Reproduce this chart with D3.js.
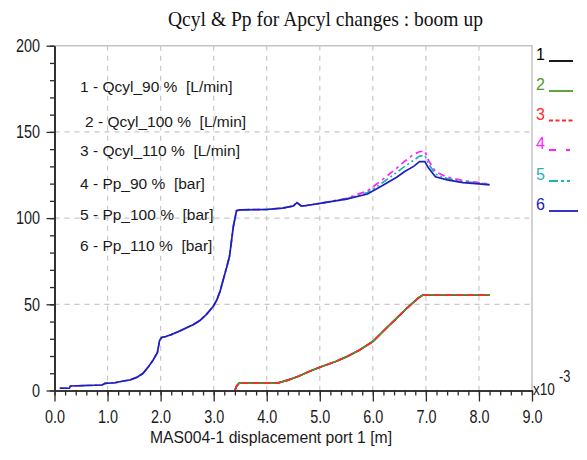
<!DOCTYPE html>
<html>
<head>
<meta charset="utf-8">
<script src="https://cdn.jsdelivr.net/npm/d3@7"></script>
<style>
  html, body { margin: 0; padding: 0; background: #fff; }
  svg { display: block; }
  text { font-family: "Liberation Sans", Arial, sans-serif; }
</style>
</head>
<body>
<svg id="chart" width="587" height="460"></svg>
<script>
// ---- data ----
const titleText = "Qcyl & Pp for Apcyl changes : boom up";
const xAxisTitle = "MAS004-1 displacement port 1 [m]";
const xTickValues = [0, 1, 2, 3, 4, 5, 6, 7, 8, 9];
const yTickValues = [0, 50, 100, 150, 200];

const seriesIds = ["1", "2", "3", "4", "5", "6"];
const seriesNames = [
  "Qcyl_90 %  [L/min]",
  "Qcyl_100 %  [L/min]",
  "Qcyl_110 %  [L/min]",
  "Pp_90 %  [bar]",
  "Pp_100 %  [bar]",
  "Pp_110 %  [bar]"
];
const seriesColors = ["#000000", "#4f9a2a", "#ff2a2a", "#ff22ff", "#1fb2b2", "#1e1ec0"];
const seriesDashes = [null, null, "7,4", "7,4,3,4", "8,3,2,3,2,3", null];
const keyDashes    = [null, null, "4,2.5", "7,10,4,10", "9,3,3,3,3,3", null];

// cylinder flow (x10^-3 scale), rises after the pump pressure plateau
const qX    = [3.40, 3.43, 3.48, 3.80, 4.20, 4.40, 4.60, 4.80, 5.00, 5.30, 5.50, 5.75, 6.00, 6.25, 6.45, 6.65, 6.85, 6.95, 7.50, 8.20];
const q90   = [0.0, 2.5, 4.3, 4.3, 4.3, 6.0, 8.3, 11.0, 13.5, 16.8, 19.5, 23.5, 28.4, 36.0, 42.0, 48.0, 53.5, 55.5, 55.5, 55.5];
const q100  = [0.0, 2.5, 4.3, 4.3, 4.3, 6.0, 8.3, 11.0, 13.5, 16.8, 19.5, 23.5, 28.4, 36.0, 42.0, 48.0, 53.5, 55.5, 55.5, 55.5];
const q110  = [0.0, 2.5, 4.3, 4.3, 4.3, 6.0, 8.3, 11.0, 13.5, 16.8, 19.5, 23.5, 28.4, 36.0, 42.0, 48.0, 53.5, 55.5, 55.5, 55.5];

// pump pressure
const pX    = [0.10, 0.28, 0.30, 0.90, 0.95, 1.14, 1.30, 1.42, 1.55, 1.67, 1.77, 1.86, 1.94, 1.98, 2.02, 2.10, 2.20, 2.36, 2.50, 2.62,
               2.74, 2.86, 2.99, 3.06, 3.12, 3.18, 3.25, 3.30, 3.37, 3.43, 3.50, 4.00, 4.30, 4.50, 4.57, 4.65, 4.75, 5.00, 5.50, 5.90,
               6.15, 6.45, 6.60, 6.77, 6.88, 6.98, 7.05, 7.18, 7.40, 7.70, 8.00, 8.20];
const p90   = [1.3, 1.3, 2.6, 3.2, 4.1, 4.5, 5.5, 6.1, 7.6, 10.0, 13.8, 17.7, 22.0, 29.0, 30.8, 31.3, 32.4, 34.5, 36.5, 38.3,
               40.6, 44.0, 48.7, 52.5, 57.5, 64.2, 72.0, 78.0, 95.0, 104.3, 104.8, 105.0, 105.8, 107.0, 109.0, 107.0, 107.3, 108.5, 111.5, 115.8,
               121.5, 129.0, 133.0, 137.0, 138.5, 139.0, 133.5, 127.0, 123.8, 121.8, 120.6, 119.6];
const p100  = [1.3, 1.3, 2.6, 3.2, 4.1, 4.5, 5.5, 6.1, 7.6, 10.0, 13.8, 17.7, 22.0, 29.0, 30.8, 31.3, 32.4, 34.5, 36.5, 38.3,
               40.6, 44.0, 48.7, 52.5, 57.5, 64.2, 72.0, 78.0, 95.0, 104.3, 104.8, 105.0, 105.8, 107.0, 109.0, 107.0, 107.3, 108.5, 111.0, 114.8,
               119.8, 126.5, 130.0, 133.5, 136.0, 136.3, 131.5, 125.5, 123.0, 121.2, 120.3, 119.5];
const p110  = [1.3, 1.3, 2.6, 3.2, 4.1, 4.5, 5.5, 6.1, 7.6, 10.0, 13.8, 17.7, 22.0, 29.0, 30.8, 31.3, 32.4, 34.5, 36.5, 38.3,
               40.6, 44.0, 48.7, 52.5, 57.5, 64.2, 72.0, 78.0, 95.0, 104.3, 104.8, 105.0, 105.8, 107.0, 109.0, 107.0, 107.3, 108.5, 111.0, 114.0,
               118.3, 123.7, 127.0, 130.0, 132.8, 132.8, 129.0, 124.0, 122.2, 120.6, 119.9, 119.3];

const seriesX = [qX, qX, qX, pX, pX, pX];
const seriesY = [q90, q100, q110, p90, p100, p110];

// ---- layout ----
const svg = d3.select("#chart");
const plot = { left: 54.5, right: 532, top: 45.7, bottom: 390.5 };

const x = d3.scaleLinear().domain([0, 9]).range([plot.left, plot.right]);
const y = d3.scaleLinear().domain([0, 200]).range([plot.bottom, plot.top]);

const gridColor = "#c8c8c8";
const axisColor = "#2a2a2a";

// squeeze a text element horizontally to a narrower face
function narrow(sel, f) {
  sel.each(function () {
    const w = this.getComputedTextLength();
    if (w > 0) {
      d3.select(this).attr("textLength", w * f).attr("lengthAdjust", "spacingAndGlyphs");
    }
  });
}

// grid
const grid = svg.append("g").attr("stroke", gridColor).attr("stroke-width", 1.2)
  .attr("stroke-dasharray", "5,5");
grid.selectAll("line.gx").data(xTickValues.slice(1, -1)).join("line")
  .attr("x1", d => x(d)).attr("x2", d => x(d))
  .attr("y1", plot.top).attr("y2", plot.bottom);
grid.selectAll("line.gy").data(yTickValues.slice(1, -1)).join("line")
  .attr("x1", plot.left).attr("x2", plot.right)
  .attr("y1", d => y(d)).attr("y2", d => y(d));

// top and right frame
svg.append("path")
  .attr("d", `M${plot.left},${plot.top}H${plot.right}V${plot.bottom}`)
  .attr("fill", "none").attr("stroke", "#c4c4c4").attr("stroke-width", 1.5);

// title
svg.append("text")
  .attr("x", 325.5).attr("y", 26)
  .attr("text-anchor", "middle")
  .attr("textLength", 315).attr("lengthAdjust", "spacingAndGlyphs")
  .style("font-family", "\"Liberation Serif\", \"Times New Roman\", serif")
  .style("font-size", "22px")
  .attr("fill", "#111")
  .text(titleText);

// legend block inside the plot
const legendRows = [
  { x: 80, y: 92 }, { x: 85, y: 127 }, { x: 80, y: 155.5 },
  { x: 80, y: 188.5 }, { x: 80, y: 219.5 }, { x: 80, y: 250.5 }
];
svg.append("g").selectAll("text").data(seriesNames).join("text")
  .attr("x", (d, i) => legendRows[i].x)
  .attr("y", (d, i) => legendRows[i].y)
  .attr("xml:space", "preserve")
  .style("white-space", "pre")
  .style("font-size", "15.5px")
  .attr("fill", "#1a1a1a")
  .text((d, i) => `${seriesIds[i]} - ${d}`);

// series lines
const line = d3.line().x(d => x(d[0])).y(d => y(d[1]));
const lines = svg.append("g").attr("fill", "none");
seriesY.forEach((vals, i) => {
  const pts = seriesX[i].map((xv, k) => [xv, vals[k]]);
  lines.append("path")
    .attr("d", line(pts))
    .attr("stroke", seriesColors[i])
    .attr("stroke-width", 1.7)
    .attr("stroke-dasharray", seriesDashes[i]);
});

// axes
function styleAxis(g) {
  g.select(".domain").attr("stroke", axisColor).attr("stroke-width", 1.6);
  g.selectAll(".tick line").attr("stroke", axisColor).attr("stroke-width", 1.3);
  g.selectAll(".tick text")
    .style("font-size", "18px")
    .attr("fill", "#1a1a1a")
    .call(narrow, 0.8);
}

const yMinor = svg.append("g").attr("transform", `translate(${plot.left},0)`)
  .call(d3.axisLeft(y).tickValues(d3.range(0, 201, 10)).tickSize(4.5).tickSizeOuter(0).tickFormat(""));
styleAxis(yMinor);
const yMajor = svg.append("g").attr("transform", `translate(${plot.left},0)`)
  .call(d3.axisLeft(y).tickValues(yTickValues).tickSize(8).tickSizeOuter(0).tickPadding(6.5).tickFormat(d3.format("d")));
styleAxis(yMajor);

const xMinor = svg.append("g").attr("transform", `translate(0,${plot.bottom})`)
  .call(d3.axisBottom(x).tickValues(d3.range(0, 45.5, 1).map(v => v / 5)).tickSize(5).tickSizeOuter(0).tickFormat(""));
styleAxis(xMinor);
const xMajor = svg.append("g").attr("transform", `translate(0,${plot.bottom})`)
  .call(d3.axisBottom(x).tickValues(xTickValues).tickSize(11).tickSizeOuter(0).tickPadding(9).tickFormat(d3.format(".1f")));
styleAxis(xMajor);

// x axis title
svg.append("text")
  .attr("x", 271).attr("y", 443)
  .attr("text-anchor", "middle")
  .attr("textLength", 242).attr("lengthAdjust", "spacingAndGlyphs")
  .style("font-size", "16px")
  .attr("fill", "#1a1a1a")
  .text(xAxisTitle);

// exponent note for the flow scale
const expo = svg.append("g").style("font-size", "17px").attr("fill", "#1a1a1a");
expo.append("text").attr("x", 533).attr("y", 395).text("x10").call(narrow, 0.8);
expo.append("text").attr("x", 559).attr("y", 382).style("font-size", "16px").text("-3").call(narrow, 0.8);

// series key at the right edge
const keyY = [60, 90, 119.5, 149, 180, 210];
const key = svg.append("g");
seriesIds.forEach((id, i) => {
  key.append("text")
    .attr("x", 536).attr("y", keyY[i])
    .style("font-size", "16px")
    .attr("fill", seriesColors[i])
    .text(id);
  key.append("line")
    .attr("x1", 549).attr("x2", i === 5 ? 578 : 573)
    .attr("y1", keyY[i] + 1).attr("y2", keyY[i] + 1)
    .attr("stroke", seriesColors[i])
    .attr("stroke-width", 1.8)
    .attr("stroke-dasharray", keyDashes[i]);
});
</script>
</body>
</html>
